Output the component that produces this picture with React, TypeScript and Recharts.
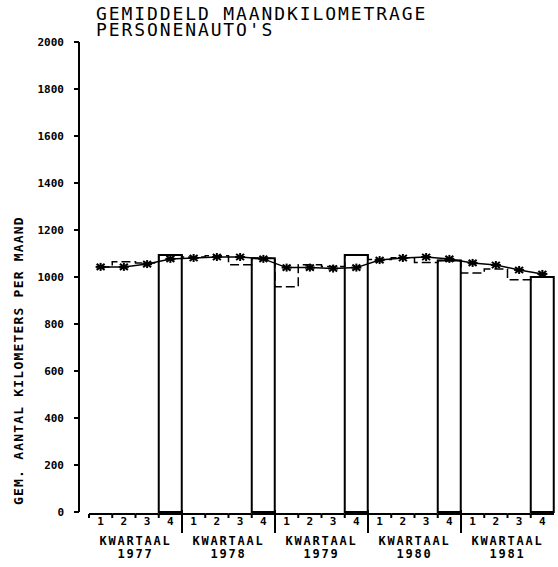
import { ComposedChart, Bar, Line, XAxis, YAxis, Label } from "recharts";

const YEARS = ["1977", "1978", "1979", "1980", "1981"];
const QUARTERS = ["1", "2", "3", "4"];

// quarterly values (dashed step line); Q4 of each year is drawn as a bar too
const QUARTERLY = [
  1043, 1065, 1060, 1094,
  1085, 1090, 1052, 1080,
  958, 1052, 1045, 1094,
  1075, 1082, 1062, 1070,
  1017, 1034, 988, 1000,
];

// smoothed trend (solid line with stars)
const TREND = [
  1043, 1043, 1055, 1077,
  1081, 1085, 1085, 1077,
  1040, 1040, 1036, 1040,
  1072, 1081, 1085, 1077,
  1060, 1051, 1030, 1013,
];

const Y_TICKS = [0, 200, 400, 600, 800, 1000, 1200, 1400, 1600, 1800, 2000];

const data = YEARS.flatMap((year, yi) =>
  QUARTERS.map((q, qi) => {
    const i = yi * 4 + qi;
    return {
      key: `${year}-${q}`,
      trend: TREND[i],
      quarterly: QUARTERLY[i],
      bar: qi === 3 ? QUARTERLY[i] : null,
    };
  })
);

const FONT = "'DejaVu Sans Mono', 'Liberation Mono', monospace";
const BAND = (554 - 89) / 20;

function QuarterTick(props: any) {
  const { x, y, index } = props;
  const qi = index % 4;
  const left = x - BAND / 2;
  const right = x + BAND / 2;
  return (
    <g>
      <line x1={left} x2={right} y1={y + 2} y2={y + 2} stroke="#000" strokeWidth={2} />
      {qi === 0 && index > 0 ? (
        <line x1={left} x2={left} y1={y - 2} y2={y + 21} stroke="#000" strokeWidth={2} />
      ) : (
        <line x1={left} x2={left} y1={y + 2} y2={y + 6} stroke="#000" strokeWidth={2} />
      )}
      <text x={x} y={y + 13} textAnchor="middle" fontFamily={FONT} fontWeight="bold" fontSize={11} fill="#000">
        {QUARTERS[qi]}
      </text>
      {qi === 1 && (
        <text
          x={right}
          y={y + 33}
          fontFamily={FONT}
          fontWeight="bold"
          fontSize={12}
          fill="#000"
          textAnchor="middle"
          letterSpacing={1.8}
        >
          <tspan x={right}>KWARTAAL</tspan>
          <tspan x={right} dy={13}>
            {YEARS[Math.floor(index / 4)]}
          </tspan>
        </text>
      )}
    </g>
  );
}

function StarDot(props: any) {
  const { cx, cy, index } = props;
  if (cx == null || cy == null) return <g key={index} />;
  return (
    <g key={index} stroke="#000" strokeWidth={2}>
      <line x1={cx - 5} x2={cx + 5} y1={cy} y2={cy} />
      <line x1={cx} x2={cx} y1={cy - 4} y2={cy + 4} />
      <line x1={cx - 4} x2={cx + 4} y1={cy - 3} y2={cy + 3} />
      <line x1={cx - 4} x2={cx + 4} y1={cy + 3} y2={cy - 3} />
    </g>
  );
}

function YLabel(props: any) {
  const { x, y, height } = props.viewBox;
  const lx = x + 18;
  const ly = y + height - 7;
  return (
    <text
      x={lx}
      y={ly}
      transform={`rotate(-90 ${lx} ${ly})`}
      textAnchor="start"
      dominantBaseline="central"
      fontFamily={FONT}
      fontWeight="bold"
      fontSize={13}
      letterSpacing={1.2}
      fill="#000"
    >
      GEM. AANTAL KILOMETERS PER MAAND
    </text>
  );
}

export default function App() {
  return (
    <div style={{ position: "absolute", left: 0, top: 0, width: 558, height: 567, background: "#fff" }}>
      <div
        style={{
          position: "absolute",
          left: 96,
          top: 6,
          fontFamily: FONT,
          fontSize: 18,
          lineHeight: "16px",
          letterSpacing: 1.9,
          color: "#000",
          whiteSpace: "pre",
        }}
      >
        {"GEMIDDELD MAANDKILOMETRAGE\nPERSONENAUTO'S"}
      </div>
      <ComposedChart
        width={558}
        height={567}
        data={data}
        margin={{ top: 42, right: 4, bottom: 0, left: 0 }}
        barCategoryGap={0}
        barGap={0}
      >
        <XAxis
          dataKey="key"
          height={55}
          interval={0}
          axisLine={false}
          tickLine={false}
          tickSize={0}
          tickMargin={0}
          padding={{ left: 10, right: 0 }}
          tick={<QuarterTick />}
        />
        <YAxis
          width={79}
          domain={[0, 2000]}
          ticks={Y_TICKS}
          interval={0}
          tickSize={5}
          tickMargin={10}
          axisLine={{ stroke: "#000", strokeWidth: 2 }}
          tickLine={{ stroke: "#000", strokeWidth: 2 }}
          tick={{ fontFamily: FONT, fontWeight: "bold", fontSize: 11, fill: "#000" }}
        >
          <Label content={<YLabel />} />
        </YAxis>
        <Bar dataKey="bar" fill="#fff" stroke="#000" strokeWidth={2} isAnimationActive={false} />
        <Line
          dataKey="quarterly"
          type="step"
          stroke="#000"
          strokeWidth={1.5}
          strokeDasharray="9 4"
          dot={false}
          isAnimationActive={false}
        />
        <Line
          dataKey="trend"
          type="linear"
          stroke="#000"
          strokeWidth={1.5}
          dot={<StarDot />}
          isAnimationActive={false}
        />
      </ComposedChart>
    </div>
  );
}
